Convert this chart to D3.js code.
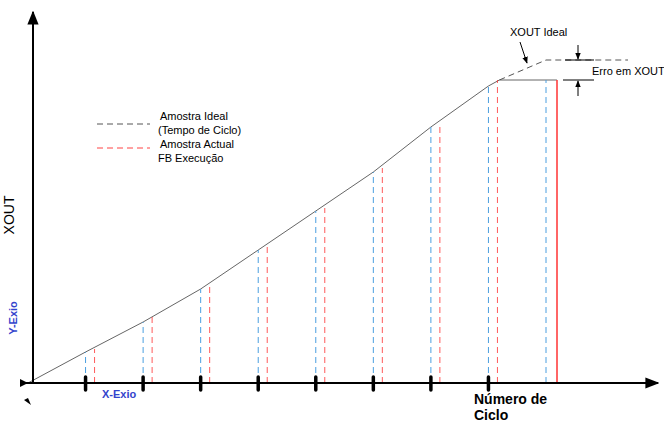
<!DOCTYPE html><html><head><meta charset="utf-8"><script src="https://cdn.jsdelivr.net/npm/d3@7"></script>
<style>body{margin:0;background:#fff}</style></head><body><svg id="c" width="664" height="422"></svg>
<script>
const cycles=[0,1,2,3,4,5,6,7,8,9];
const xoutIdeal=[0,31,61,94,133,172,211,256,297];
const xoutIdealEnd=323;
const sampleCycles=[1,2,3,4,5,6,7,8,9];
const idealSamples=[31,61,94,133,172,211,256,297,303];
const actualSamples=[34,66,97,136,175,215,258,303,303];
const legendLabels=[["Amostra Ideal","(Tempo de Ciclo)"],["Amostra Actual","FB Execução"]];
const svg=d3.select("#c");
const x=d3.scaleLinear().domain([0,9]).range([28,546]);
const y=d3.scaleLinear().domain([0,330]).range([383,53]);
const defs=svg.append("defs");
defs.append("marker").attr("id","ar").attr("viewBox","0 0 10 10").attr("refX",9).attr("refY",5).attr("markerWidth",7).attr("markerHeight",7).attr("orient","auto-start-reverse").append("path").attr("d","M0,1L10,5L0,9z").attr("fill","#000");
const curvePts=xoutIdeal.map((v,i)=>[x(cycles[i]),y(v)]);
const knee=[x(8.19),y(303)];
svg.append("path").attr("d",d3.line()(curvePts.concat([knee,[x(9.19),y(303)]]))).attr("fill","none").attr("stroke","#666").attr("stroke-width",1);
svg.append("path").attr("d",d3.line()([knee,[x(9),y(xoutIdealEnd)],[628,y(xoutIdealEnd)]])).attr("fill","none").attr("stroke","#555").attr("stroke-dasharray","6,4");
sampleCycles.forEach((c,i)=>{
 svg.append("line").attr("x1",x(c)).attr("x2",x(c)).attr("y1",383).attr("y2",y(idealSamples[i])).attr("stroke","#4a9fe0").attr("stroke-dasharray","6,4");
 const last=i==8;
 const xr=x(c)+(last?11:9);
 svg.append("line").attr("x1",xr).attr("x2",xr).attr("y1",383).attr("y2",y(actualSamples[i])).attr("stroke","#f33").attr("stroke-width",last?1.5:1).attr("stroke-dasharray",last?null:"6,4").attr("opacity",last?1:0.8);
});
svg.append("line").attr("x1",20).attr("y1",383).attr("x2",658).attr("y2",383).attr("stroke","#000").attr("stroke-width",2).attr("marker-end","url(#ar)");
svg.append("line").attr("x1",33).attr("y1",383).attr("x2",33).attr("y2",12).attr("stroke","#000").attr("stroke-width",2).attr("marker-end","url(#ar)");
svg.append("path").attr("d","M20,379L28,383L20,387z").attr("fill","#000");
svg.append("path").attr("d","M24,400L31,405L28,398z").attr("fill","#000");
sampleCycles.slice(0,8).forEach(c=>svg.append("line").attr("x1",x(c)).attr("x2",x(c)).attr("y1",377).attr("y2",390).attr("stroke","#000").attr("stroke-width",3.5).attr("stroke-linecap","round"));
const T=(t,xx,yy,o={})=>svg.append("text").attr("x",xx).attr("y",yy).text(t).attr("font-family","Arial, Liberation Sans").attr("font-size",o.s||11).attr("fill",o.c||"#000").attr("font-weight",o.w||"normal").attr("text-anchor",o.a||"start").attr("transform",o.r?`rotate(-90,${xx},${yy})`:null);
T("XOUT",14,215,{s:14,r:1,a:"middle"});
T("Y-Exio",17,318,{s:11,c:"#3344cc",w:"bold",r:1,a:"middle"});
T("X-Exio",102,398,{s:11,c:"#3344cc",w:"bold"});
T("Número de",474,404,{s:14,w:"bold"});
T("Ciclo",474,420,{s:14,w:"bold"});
T("XOUT Ideal",510,36,{s:11});
T("Erro em XOUT",592,75,{s:11});
svg.append("line").attr("x1",97).attr("x2",150).attr("y1",124).attr("y2",124).attr("stroke","#555").attr("stroke-dasharray","6,4");
svg.append("line").attr("x1",97).attr("x2",150).attr("y1",148).attr("y2",148).attr("stroke","#f44").attr("stroke-dasharray","6,4");
T(legendLabels[0][0],160,120,{s:11});T(legendLabels[0][1],158,134,{s:11});
T(legendLabels[1][0],160,148,{s:11});T(legendLabels[1][1],158,162,{s:11});
svg.append("line").attr("x1",520).attr("y1",42).attr("x2",527).attr("y2",63).attr("stroke","#000").attr("marker-end","url(#ar)");
svg.append("line").attr("x1",565).attr("y1",60).attr("x2",594).attr("y2",60).attr("stroke","#000");
svg.append("line").attr("x1",563).attr("y1",80).attr("x2",594).attr("y2",80).attr("stroke","#000");
svg.append("line").attr("x1",578).attr("y1",45).attr("x2",578).attr("y2",59).attr("stroke","#000").attr("marker-end","url(#ar)");
svg.append("line").attr("x1",578).attr("y1",96).attr("x2",578).attr("y2",81).attr("stroke","#000").attr("marker-end","url(#ar)");
</script></body></html>
